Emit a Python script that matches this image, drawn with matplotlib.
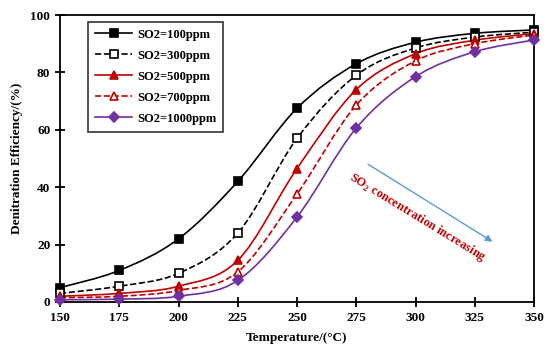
import numpy as np
import matplotlib
matplotlib.use("Agg")
import matplotlib.pyplot as plt
from matplotlib.path import Path
from matplotlib.patches import PathPatch

temps = [150, 175, 200, 225, 250, 275, 300, 325, 350]
so2_100 = [5, 11, 22, 42, 67.5, 83, 90.5, 93.6, 94.8]
so2_300 = [3, 5.5, 10, 24, 57, 79, 88.5, 92.3, 94]
so2_500 = [2, 3, 5.5, 14.5, 46.5, 74, 86.5, 91.2, 93.5]
so2_700 = [1.5, 2, 4, 10.5, 37.6, 68.6, 84, 90, 93]
so2_1000 = [0.8, 1, 2, 7.5, 29.6, 60.6, 78.5, 87.2, 91.3]
labels = ["SO2=100ppm", "SO2=300ppm", "SO2=500ppm", "SO2=700ppm", "SO2=1000ppm"]

plt.rcParams['font.family'] = ['Liberation Serif', 'DejaVu Serif']
plt.rcParams['font.weight'] = 'bold'
plt.rcParams['mathtext.fontset'] = 'custom'
plt.rcParams['mathtext.rm'] = 'Liberation Serif:bold'
plt.rcParams['mathtext.bf'] = 'Liberation Serif:bold'

fig = plt.figure(figsize=(5.5, 3.48), dpi=100)
ax = fig.add_axes([60/550, 1-302/348, (534-60)/550, (302-15)/348])

def smooth_path(x, y):
    x = np.asarray(x, float); y = np.asarray(y, float)
    verts = [(x[0], y[0])]
    codes = [Path.MOVETO]
    n = len(x)
    for i in range(n - 1):
        p0 = (x[max(i-1, 0)], y[max(i-1, 0)])
        p1 = (x[i], y[i]); p2 = (x[i+1], y[i+1])
        p3 = (x[min(i+2, n-1)], y[min(i+2, n-1)])
        c1 = (p1[0] + (p2[0]-p0[0])/6, p1[1] + (p2[1]-p0[1])/6)
        c2 = (p2[0] - (p3[0]-p1[0])/6, p2[1] - (p3[1]-p1[1])/6)
        verts += [c1, c2, p2]
        codes += [Path.CURVE4]*3
    return Path(verts, codes)

black = 'black'; red = '#C00000'; purple = '#7030A0'
specs = [
    (so2_100, black, '-', 's', black, 5.2),
    (so2_300, black, '--', 's', 'white', 5.2),
    (so2_500, red, '-', '^', red, 6.0),
    (so2_700, red, '--', '^', 'white', 6.0),
    (so2_1000, purple, '-', 'D', purple, 4.6),
]
handles = []
for (vals, col, ls, mk, fc, ms), lab in zip(specs, labels):
    ax.add_patch(PathPatch(smooth_path(temps, vals), facecolor='none',
                           edgecolor=col, linestyle=ls, lw=1.2, zorder=2))
    ax.plot(temps, vals, linestyle='none', marker=mk, ms=ms, mfc=fc,
            mec=col, mew=1.2, zorder=3, clip_on=False)
    h, = ax.plot([], [], color=col, linestyle=ls, lw=1.2, marker=mk,
                 ms=ms, mfc=fc, mec=col, mew=1.2)
    handles.append(h)

ax.set_xlim(150, 350)
ax.set_ylim(0, 100)
ax.set_xticks(np.arange(150, 351, 25))
ax.set_yticks(np.arange(0, 101, 20))
ax.tick_params(direction='inout', length=7, width=1.3, labelsize=9.5)
for lab in ax.get_xticklabels() + ax.get_yticklabels():
    lab.set_fontweight('bold')
for s in ax.spines.values():
    s.set_linewidth(1.3)

ax.set_xlabel("Temperature/(°C)", fontsize=9.5, fontweight='bold', labelpad=6)
ax.set_ylabel("Denitration Efficiency/(%)", fontsize=9.5, fontweight='bold', labelpad=5)

leg = ax.legend(handles, labels, loc='upper left', bbox_to_anchor=(0.059, 0.976),
                borderaxespad=0, frameon=True, fancybox=False, edgecolor='black',
                handlelength=3.0, handletextpad=0.4, labelspacing=0.72, borderpad=0.55,
                prop={'weight': 'bold', 'size': 9})
leg.get_frame().set_linewidth(1.2)

ax.annotate('', xy=(333.5, 20.5), xytext=(279, 48.5),
            arrowprops=dict(arrowstyle='-|>', color='#5B9BD5', lw=1.0,
                            mutation_scale=10))
ax.text(301, 29.3, r"SO$_\mathbf{2}$ concentration increasing", color=red,
        fontsize=9, fontweight='bold', rotation=-31.5, ha='center', va='center',
        rotation_mode='anchor')

fig.savefig("out.png", dpi=100)
